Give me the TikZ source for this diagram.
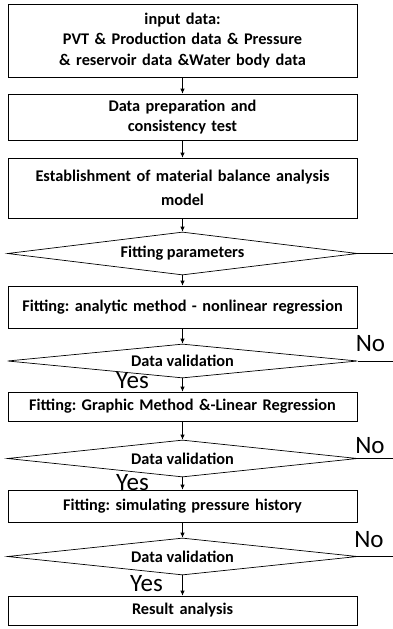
\documentclass[tikz,border=0pt]{standalone}
\usepackage{fontspec}
\setmainfont{Carlito}
\usetikzlibrary{arrows.meta,shapes.geometric}

\begin{document}
\frenchspacing
\begin{tikzpicture}[
  x=1pt,
  y=-1pt,
  font=\fontsize{16.3}{20.5}\selectfont\bfseries,
  stepbox/.style={
    draw,
    line width=0.7pt,
    align=center,
    inner sep=2pt,
    text width=344pt,
    minimum width=349pt
  },
  decision/.style={
    diamond,
    draw,
    line width=0.7pt,
    aspect=8,
    inner sep=0pt,
    minimum width=350pt
  },
  flow/.style={-{Latex[length=5pt,width=4.5pt]}, line width=0.7pt},
  exitline/.style={line width=0.7pt},
  answer/.style={font=\fontsize{25}{25}\selectfont, inner sep=0pt}
]
\useasboundingbox (0,0) rectangle (393,629);

% Main steps
\node[stepbox, minimum height=73pt] (input) at (182.5,40.5) {input data:\\PVT \& Production data \& Pressure\\\& reservoir data \&Water body data};
\node[stepbox, minimum height=46pt] (prep) at (182.5,117) {Data preparation and\\consistency test};
\node[stepbox, minimum height=60pt] (model) at (182.5,188) {Establishment of material balance analysis\\[4pt]model};
\node[decision, minimum height=43pt] (fitpar) at (182.5,253.5) {Fitting parameters};
\node[stepbox, minimum height=42pt] (analytic) at (182.5,307) {Fitting: analytic method - nonlinear regression};
\node[decision, minimum height=34pt] (valid1) at (182.5,361) {Data validation};
\node[stepbox, minimum height=29pt] (graphic) at (182.5,406.5) {Fitting: Graphic Method \&-Linear Regression};
\node[decision, minimum height=37pt] (valid2) at (182.5,458.5) {Data validation};
\node[stepbox, minimum height=32pt] (history) at (182.5,506) {Fitting: simulating pressure history};
\node[decision, minimum height=37pt] (valid3) at (182.5,556.5) {Data validation};
\node[stepbox, minimum height=29pt] (result) at (182.5,610.5) {Result analysis};

\draw[flow] (input) -- (prep);
\draw[flow] (prep) -- (model);
\draw[flow] (model) -- (fitpar);
\draw[flow] (fitpar) -- (analytic);
\draw[flow] (analytic) -- (valid1);
\draw[flow] (valid1) -- (graphic);
\draw[flow] (graphic) -- (valid2);
\draw[flow] (valid2) -- (history);
\draw[flow] (history) -- (valid3);
\draw[flow] (valid3) -- (result);

% Exits to the right
\coordinate (fitparend) at (393,253.5);
\coordinate (no1end) at (393,361);
\coordinate (no2end) at (393,458.5);
\coordinate (no3end) at (393,556.5);
\draw[exitline] (fitpar.east) -- (fitparend);
\draw[exitline] (valid1.east) -- (no1end);
\draw[exitline] (valid2.east) -- (no2end);
\draw[exitline] (valid3.east) -- (no3end);

% Yes / No labels
\node[answer] (no1) at (370.5,343.5) {No};
\node[answer] (no2) at (370,446) {No};
\node[answer] (no3) at (369,540) {No};
\node[answer] (yes1) at (132.5,381) {Yes};
\node[answer] (yes2) at (132.5,482.5) {Yes};
\node[answer] (yes3) at (146.5,583.5) {Yes};

\end{tikzpicture}
\end{document}
